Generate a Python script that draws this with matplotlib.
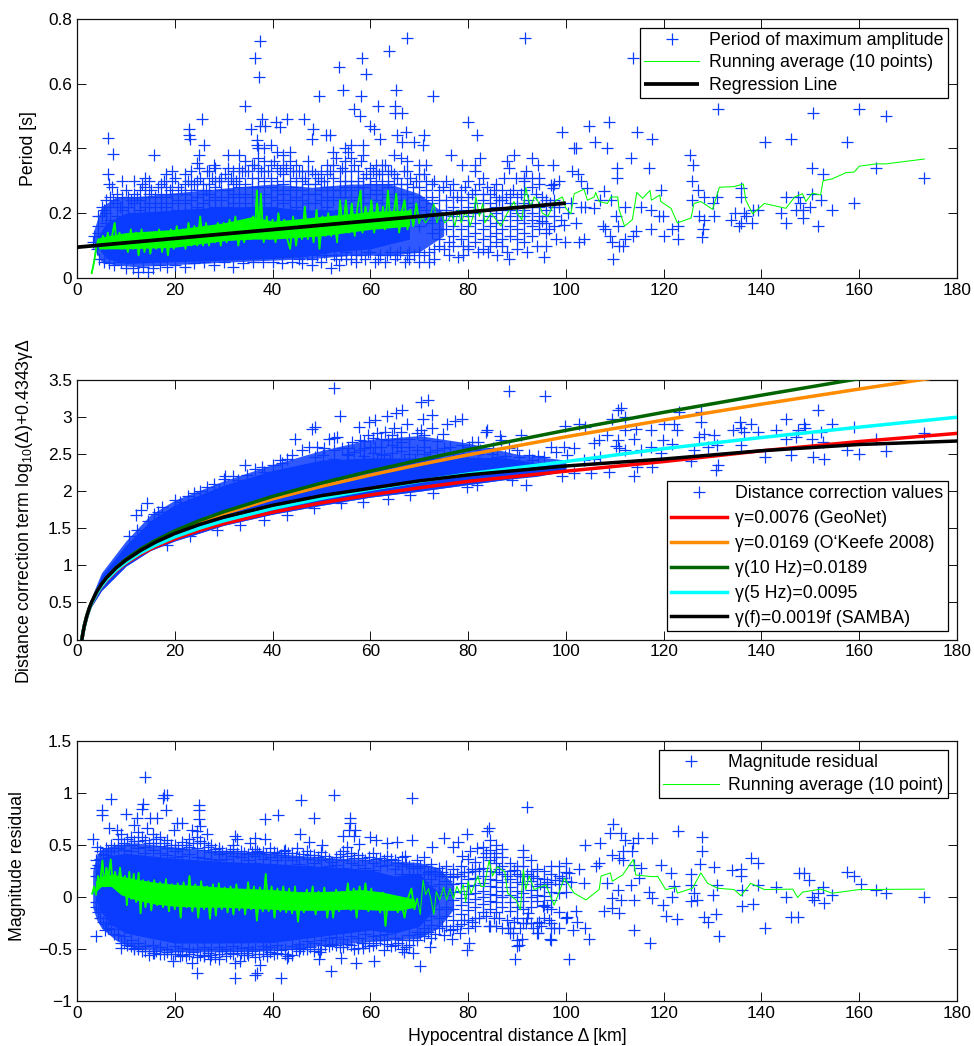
import matplotlib
matplotlib.use('Agg')
import matplotlib.pyplot as plt

plt.rcParams['font.family'] = ['Liberation Sans', 'DejaVu Sans']
plt.rcParams['mathtext.fontset'] = 'custom'
plt.rcParams['mathtext.rm'] = 'Liberation Sans'
plt.rcParams['mathtext.default'] = 'regular'
plt.rcParams['axes.unicode_minus'] = True

W, H = 974, 1046
BLUE = '#0a3cff'
GREEN = '#00ff00'

# ---------- top panel: period ----------
# The core of each cloud is saturated by overplotting, so it is drawn as bands
# (solid core, lighter hatched zone); visible crosses are listed.
top_outer_x = [3.5,5,8,12,18,25,32,40,48,56,64,70,75]
top_outer_lo = [.09,.05,.04,.035,.04,.045,.05,.055,.06,.07,.07,.08,.13]
top_outer_hi = [.15,.22,.25,.25,.26,.27,.28,.29,.28,.29,.29,.26,.2]
top_band_x = [4,6,10,20,30,40,46,52,60,68]
top_band_lo = [.1,.06,.045,.05,.055,.06,.065,.08,.09,.12]
top_band_hi = [.12,.17,.2,.21,.22,.22,.21,.21,.2,.19]
top_green_band_x = [4.5,10,20,30,36,40,50,60,68]
top_green_band_lo = [.09,.09,.095,.115,.12,.12,.13,.15,.16]
top_green_band_hi = [.125,.14,.15,.17,.19,.175,.19,.205,.21]
top_far = [(6.3,.431),(7.4,.382),(6.3,.32),(6.5,.29),(7.2,.28),(15.7,.38),(23,.46),(23,.44),(23.2,.43),(25.6,.49),(26,.41),(25,.38),(24.5,.355),(25,.34),(28,.35),(26.6,.33),(34.4,.53),(36.5,.68),(37.5,.73),(37.2,.62),(35.6,.46),(37.8,.49),(37.5,.47),(38.5,.47),(36.8,.425),(36.8,.41),(40.8,.48),(41.5,.467),(43,.49),(46.4,.49),(48.3,.46),(48,.43),(49.4,.56),(51,.44),(51.8,.44),(53.5,.65),(54.4,.58),(56.6,.52),(57.8,.5),(58,.56),(58.2,.68),(59.1,.63),(60,.47),(60.7,.46),(61.6,.53),(62,.43),(63.9,.70),(65.3,.58),(65.1,.53),(65.1,.51),(66.5,.51),(67.4,.74),(67.3,.45),(65.4,.44),(66.5,.42),(68.9,.42),(71,.44),(70.8,.41),(72.8,.56),(76.4,.38),(80,.48),(81.8,.44),(82.5,.37),(78.7,.35),(81.5,.35),
(91.7,.74),(113.8,.68),(131.2,.52),(150.6,.51),(160,.52),(165.4,.50),(99.2,.45),(104.8,.47),(108.9,.48),(114.5,.45),(117.7,.43),(106,.42),(101.6,.40),(102,.40),(108.5,.40),(113.4,.37),(89.4,.38),(88,.36),(88.4,.34),(93,.37),(94.2,.35),(97.4,.35),(91.8,.33),(101.2,.33),(102.5,.32),(110.4,.34),(110.4,.31),(117,.34),(125.4,.38),(125.9,.35),(125.7,.30),(127,.27),(140.7,.42),(146,.43),(157.4,.42),(150.4,.34),(152.5,.32),(163.4,.34),(173.3,.31),(87.4,.31),(89.8,.31),(91.5,.31),(94.5,.31),(98.6,.30),(103,.30),(97,.287),(97.3,.277),(104.4,.277),(107.8,.267),(119.4,.27),(135.8,.277),(135.8,.25),(128.3,.25),(130,.23),(131,.25),(125.7,.24),(145,.25),(147.4,.25),(150.4,.26),(152.1,.24),(154.4,.21),(159,.23),(147.8,.23),(147,.21),(150,.22),(148.6,.21),(148.6,.185),(145,.17),(151.5,.16),(144,.20),(139.2,.21),(138.2,.21),(136.5,.20),(136.8,.19),(134.5,.20),(133.8,.18),(135.8,.17),(135.5,.16),(138,.17),(130.3,.19),(127.3,.19),(128.3,.18),(128,.15),(127.8,.126),(119.8,.19),(119,.19),(117.4,.21),(115.3,.22),(112,.22),(110.2,.19),(110.6,.16),(107.5,.16),(108,.15),(109,.13),(109.5,.11),(110.9,.10),(111.6,.10),(112,.12),(113.7,.13),(114.3,.145),(117.4,.15),(120.1,.13),(121.8,.15),(123,.16),(123,.12),(109.7,.06),(95.6,.065),(88.3,.06),(103.7,.12),(102.6,.11),(99.9,.11),(98,.12),(102,.17),(99.7,.165),(96.6,.15),(95.2,.175),(105.8,.215),(104,.22),(107,.24),(109.2,.24)]
top_low = [(3.5,.13),(3.2,.11),(4,.09),(4.5,.06),(5.5,.05),(6.5,.045),(7.5,.04),(9,.05),(10,.03),(11.5,.03),(12.5,.02),(13.5,.035),(14.5,.02),(15.5,.03),(17,.04),(18.5,.035),(20,.04),(22,.035),(24,.045),(26,.05),(28,.04),(30,.05),(32,.035),(34,.045),(36,.05),(38,.05),(40,.05),(42,.045),(44,.05),(46,.045),(48,.04),(50,.05),(52,.03),(53.5,.04),(55,.06),(57,.05),(59,.06),(61,.05),(63,.05),(65,.06),(67,.05),(68,.06),(70,.05),(72,.05),(73,.06),(75,.09),(76,.07),(78,.065),(79,.07),(80,.09),
(46,.07),(48,.06),(51,.07),(53,.06),(55,.08),(57,.07),(60,.08),(62,.07),(64,.08),(66,.08),(68,.08),(70,.08),(72,.08),(74,.1),(76,.11)]
top_extra = [(5.5,.21),(7.4,.24),(8.8,.22),(10,.27),(11,.24),(12.2,.25),(13.3,.29),(15.2,.27),(16.6,.28),(17.8,.3),(19,.27),(20.1,.31),(21.3,.27),(22.7,.3),(24,.29),(25.2,.31),(26.4,.27),(27.6,.31),(29,.3),(30.2,.32),(31.4,.31),(32.6,.3),(33.8,.33),(35,.33),(36.3,.35),(37.6,.33),(39,.33),(40.2,.36),(41.5,.33),(42.8,.34),(44.1,.33),(45.4,.33),(46.7,.31),(48,.33),(49.3,.31),(50.5,.3),(51.8,.33),(53,.37),(54.3,.34),(55.5,.39),(56.7,.35),(58,.36),(59.2,.32),(60.5,.33),(61.8,.32),(63,.35),(64.3,.33),(65.5,.31),(66.9,.33),(68.2,.31),(69.4,.3),(71,.32),(73,.3),(74.8,.28),(76.2,.27),(77.8,.25),(79.3,.28),(80.8,.26),(82.2,.29),(83.8,.28),(85.2,.27),(86.4,.24),(87.8,.25),(89.2,.27),(90.8,.26),(92.2,.24),(93.8,.26),(95.2,.25),(96.8,.23),(98.5,.22),(100.5,.2),(99,.18),(101,.23),(103,.22),
(45.5,.06),(47,.075),(49,.07),(50.5,.08),(52.5,.07),(54,.07),(56,.06),(58,.07),(59.5,.08),(61.5,.06),(63.5,.07),(65.5,.07),(67.5,.07),(69,.07),(71,.07),(73,.09),(77,.1),(79,.1),(82,.08),(84,.08),(86,.07),(88,.08),(90,.09),(92,.08),(94,.1),(96,.1)]
top_columns = [(4.2,.19,.16,.14),(5.1,.22,.19,.13),(5.9,.24,.2,.17),(6.8,.25,.22,.18),(8.1,.26,.23,.19),(9.3,.3,.25,.21,.18),(10.4,.25,.22,.19),(11.6,.3,.26,.23,.2),(12.8,.27,.24,.21,.17),(13.9,.31,.28,.25,.22,.19),(14.7,.3,.26,.23,.2),(16.0,.25,.22,.18),(17.2,.29,.26,.23,.2),(18.3,.32,.28,.25,.22,.19),(19.5,.33,.3,.26,.23,.2),(20.7,.28,.24,.21,.18),(22.0,.32,.29,.26,.23,.2),(23.4,.33,.3,.27,.24,.21),(24.6,.3,.27,.25,.22,.19),(25.8,.29,.26,.23,.2),(27.0,.33,.29,.26,.24,.21),(28.3,.34,.3,.28,.25,.22),(29.5,.31,.27,.24,.21),(30.8,.38,.34,.3,.27,.25,.22),(32.0,.33,.29,.26,.23,.2),(33.1,.38,.34,.31,.28,.25,.21),(34.4,.36,.33,.29,.26,.23),(35.7,.35,.31,.28,.25,.22),(37.0,.4,.37,.34,.31,.28,.25,.22),(38.3,.4,.36,.33,.3,.26,.23),(39.6,.41,.35,.31,.28,.25,.22),(40.9,.39,.34,.3,.27,.24,.21),(42.2,.38,.35,.32,.29,.26,.23),(43.5,.39,.36,.33,.3,.27,.24,.21),(44.8,.35,.31,.28,.25,.22),(46.1,.33,.3,.27,.24,.21),(47.3,.36,.33,.29,.26,.23,.2),(48.6,.32,.29,.26,.23),(49.9,.33,.3,.27,.24,.21),(51.2,.35,.32,.28,.25,.22),(52.4,.39,.35,.31,.27,.24),(53.7,.33,.3,.27,.25,.21),(54.9,.4,.36,.33,.3,.28,.25,.23),(56.0,.41,.37,.33,.3,.27,.24,.21),(57.4,.33,.3,.28,.25,.22),(58.6,.41,.38,.31,.28,.25,.23,.2),(59.9,.34,.31,.29,.26,.23),(61.1,.35,.33,.3,.27,.24,.21),(62.4,.35,.32,.29,.26,.23),(63.6,.33,.3,.28,.25,.22),(64.9,.38,.32,.29,.26,.23,.2),(66.2,.37,.29,.26,.24,.21),(67.5,.36,.33,.29,.26,.23,.2),(68.8,.28,.25,.22,.19),(70.0,.35,.32,.28,.25,.22,.19,.16),(71.3,.35,.3,.27,.24,.21,.18),(72.6,.29,.25,.23,.2,.17,.14),(74.0,.27,.24,.21,.18,.15,.12),
(75.5,.3,.24,.21,.18,.15),(77,.29,.25,.22,.19,.16,.13),(78.5,.27,.24,.21,.18,.15,.12),(80,.3,.25,.22,.19,.16,.13,.1),(81.5,.33,.27,.23,.2,.17,.14,.11),(83,.31,.26,.24,.21,.18,.15,.12,.09),(84.5,.26,.23,.21,.19,.16,.13,.1),(85.8,.29,.25,.22,.2,.17,.14,.11),(87,.27,.24,.21,.18,.15,.12,.1),(88.5,.26,.23,.21,.19,.16,.13),(90,.25,.22,.2,.18,.15,.12),(91.5,.3,.27,.23,.21,.19,.17,.14,.11),(93,.31,.28,.22,.2,.18,.16,.13),(94.5,.29,.22,.19,.17,.15),(96,.24,.21,.19,.17,.14),(97.5,.29,.24,.22,.19,.16)]
top_running = [(3.0,.015),(3.5,.05),(4,.10),(4.4,.12),(4.8,.09),(5.3,.13),(5.8,.09),(6.3,.14),(6.8,.10),(7.3,.14),(7.7,.17),(8.1,.11),(8.7,.14),(9.2,.09),(9.8,.13),(10.4,.08),(11,.15),(11.5,.09),(12.1,.14),(12.6,.07),(13.2,.15),(13.8,.08),(14.4,.14),(15,.075),(15.6,.14),(16.2,.09),(16.8,.15),(17.4,.08),(18,.14),(18.6,.07),(19.2,.15),(19.8,.09),(20.4,.16),(21,.10),(21.6,.15),(22.2,.09),(22.8,.17),(23.4,.10),(24,.16),(24.6,.10),(25.2,.19),(25.8,.10),(26.4,.17),(27,.10),(27.6,.16),(28.2,.11),(28.8,.17),(29.4,.10),(30,.17),(30.6,.11),(31.2,.18),(31.8,.12),(32.4,.19),(33,.10),(33.6,.17),(34.2,.11),(34.8,.18),(35.4,.12),(36,.19),(36.4,.14),(36.8,.27),(37.2,.13),(37.6,.26),(38.2,.11),(38.8,.19),(39.4,.12),(40,.18),(40.6,.11),(41.2,.20),(41.8,.13),(42.4,.18),(43,.12),(43.6,.09),(44.2,.19),(44.8,.10),(45.4,.17),(46,.12),(46.6,.22),(47.2,.12),(47.8,.18),(48.4,.11),(49,.21),(49.6,.09),(50.2,.19),(50.8,.13),(51.4,.20),(52,.13),(52.6,.19),(53.2,.11),(53.8,.24),(54.4,.14),(55,.24),(55.6,.14),(56.2,.23),(56.8,.13),(57.4,.22),(58,.27),(58.4,.14),(59,.22),(59.6,.15),(60.2,.24),(60.8,.14),(61.4,.23),(62,.16),(62.6,.22),(63,.15),(63.6,.27),(64.2,.16),(64.8,.20),(65.3,.26),(65.9,.14),(66.5,.21),(67,.24),(67.6,.15),(68.2,.21),(68.8,.16),(69.4,.23),(70,.17),(70.6,.19),(71.3,.17),(72.2,.19),(73,.23),(73.6,.17),(74.5,.20),(75.2,.17),(76,.18),(76.6,.20),(77.3,.16),(78,.21),(78.6,.17),(79.3,.20),(80,.19),(80.4,.16),(81,.19),(81.6,.25),(82.3,.19),(83,.23),(83.4,.17),(84.7,.2),(86.7,.16),(88,.2),(89.4,.236),(90,.2),(91,.18),(91.8,.28),(92.2,.25),(92.8,.22),(93.5,.25),(94.2,.24),(95.2,.2),(96.3,.19),(97.3,.22),(98,.24),(99.3,.25),(100,.215),(101,.198),(101.7,.26),(103.7,.274),(104.4,.24),(105.8,.25),(106.1,.264),(106.8,.236),(108.5,.23),(109.2,.25),(110.6,.25),(110.9,.21),(112,.16),(113.6,.18),(114.5,.264),(115.7,.246),(117.2,.27),(117.5,.24),(119.2,.256),(119.4,.236),(121.5,.215),(122.8,.17),(125.6,.185),(126.2,.23),(127.6,.236),(130,.212),(131.4,.28),(134.4,.282),(136.3,.29),(136.8,.24),(138.2,.198),(140.6,.23),(145,.215),(146.8,.25),(148.4,.26),(149.1,.236),(150.4,.262),(152.1,.256),(152.6,.30),(154.5,.306),(157.3,.325),(159,.327),(160,.345),(163.4,.352),(165.4,.352),(173.3,.367)]
regression_x = [0, 100]
regression_y = [.095, .231]

# ---------- middle panel: distance correction ----------
mid_band_x = [2.5,3,5,10,15,20,30,40,50,60,70,80,88,94,100]
mid_band_lo = [.42,.45,.66,.99,1.2,1.33,1.54,1.69,1.81,1.92,2.0,2.09,2.16,2.2,2.27]
mid_band_hi = [.46,.55,.86,1.27,1.6,1.82,2.08,2.28,2.42,2.45,2.45,2.46,2.45,2.38,2.34]
mid_outer_x = [3,5,10,15,20,30,40,50,60,70,80,90,100]
mid_outer_lo = [.45,.66,.99,1.2,1.33,1.54,1.69,1.81,1.92,2.0,2.09,2.18,2.27]
mid_outer_hi = [.58,.9,1.33,1.68,1.88,2.14,2.36,2.55,2.7,2.75,2.65,2.5,2.42]
mid_pts = [(52.5,3.39),(53.7,3.01),(71.8,3.23),(70.3,3.2),(72.7,3.03),(66.5,3.09),(65.2,3.06),(63.4,3.02),(61,2.96),(59.8,2.93),(57.6,2.86),(70.8,2.97),(72.7,2.85),(67.6,2.91),(75.7,2.91),(78.7,2.97),(77.4,2.95),(74.8,2.77),(83.8,2.82),(64.8,2.85),(63,2.8),(61.4,2.78),(59.6,2.76),(57.9,2.69),(56.2,2.67),(70.3,2.83),(69.5,2.79),(70.9,2.69),(65.4,2.71),(63.7,2.69),(60,2.59),(61,2.6),(56.6,2.53),(57.9,2.55),(62.7,2.49),(65.4,2.59),(69.5,2.55),(72.3,2.53),(75,2.58),(78.7,2.62),(80.8,2.67),(80.1,2.59),(82.5,2.56),(52.5,2.72),(51.5,2.7),(53.2,2.73),(52.5,2.56),(54.2,2.58),(48.7,2.87),(48,2.84),(44.6,2.71),(47.4,2.59),(46,2.55),(44,2.49),(41.6,2.42),(42,2.38),(34.4,2.35),(37.8,2.32),(38.2,2.26),(30.3,2.21),(30,2.16),(34.8,2.22),(33,2.15),(26.6,2.06),(25.2,2.0),(29,2.02),(22.8,1.93),(21.1,1.86),(17.4,1.79),(14.3,1.84),(13,1.74),(12.1,1.68),(15.7,1.69),(12.3,1.48),(10.6,1.39),(48.7,2.46),(50.4,2.49),(52.5,2.44),(55.2,2.49),(58.6,2.42),(61.3,2.42),(64,2.42),(66.8,2.42),(69.2,2.44),(71.6,2.42),(74.3,2.42),(77,2.42),(79.8,2.42),(72.9,1.98),(79.8,2.06),(81.8,2.08),(68.2,1.95),(63.7,1.89),(58.6,1.86),(53.9,1.84),(48.4,1.77),(42.9,1.68),(38.2,1.61),(33.4,1.54),(28.6,1.48),(23.2,1.39),(18.4,1.27),
(88.3,3.35),(95.7,3.29),(111.2,3.12),(110.6,3.09),(112,3.0),(109.5,2.98),(123.2,3.07),(127.7,3.07),(151.5,3.09),(127.7,2.94),(135.7,2.94),(137.8,2.91),(145,2.97),(148.8,2.91),(154.4,2.9),(99.9,2.88),(102.7,2.91),(104,2.86),(114.3,2.84),(112,2.82),(120.1,2.91),(122.2,2.91),(122.7,2.83),(117.5,2.83),(135.8,2.85),(134.1,2.83),(136.5,2.8),(139.2,2.8),(143,2.83),(147.4,2.83),(149,2.85),(159,2.87),(173.3,2.78),(128.3,2.77),(130.3,2.76),(127.3,2.73),(145,2.71),(147,2.73),(150.4,2.71),(152.1,2.8),(152.5,2.67),(163.4,2.71),(106.8,2.69),(108.5,2.76),(110.6,2.69),(114,2.7),(105.8,2.65),(119.8,2.69),(121.8,2.64),(126.2,2.56),(131,2.62),(129,2.6),(135.8,2.62),(157.6,2.56),(140.7,2.46),(146,2.49),(150.6,2.46),(152.7,2.43),(160,2.5),(165.4,2.54),(131.2,2.35),(130.7,2.29),(125.6,2.41),(119.4,2.51),(117.4,2.59),(115.3,2.55),(110.9,2.58),(112,2.56),(110.2,2.61),(117.7,2.33),(114.5,2.32),(114,2.2),(108.9,2.26),(105.1,2.24),(99.3,2.2),(101.7,2.25),(91.8,2.08),(89,2.15),(90.8,2.76),(86.6,2.74),(83.6,2.8),(86.8,2.69),(88.3,2.58),(90.1,2.56),(96.9,2.6),(99.7,2.59),(101.7,2.58),(98,2.53),(100.3,2.49),(105.8,2.44),(103.7,2.42),(107,2.46),(94.2,2.47),(92.5,2.49),(95.6,2.46),(85.1,2.58),(86,2.46)]
mid_columns = [(55.5,2.58,2.5),(58.8,2.68,2.58,2.48),(60.6,2.72,2.52),(62.2,2.7,2.6,2.5),(64.4,2.76,2.62,2.52),(66.2,2.8,2.66,2.54),(68,2.7,2.6,2.5),(71,2.76,2.6,2.5),(73.6,2.68,2.56),(76.3,2.6,2.5),(79,2.56,2.5),(82,2.66,2.5),(84.8,2.5,2.44),(87.6,2.48,2.42),(90.5,2.46,2.4),(93,2.42,2.36),(50.5,2.58),(49,2.6),(43,2.44),(40,2.36),(36.5,2.3),(32,2.2),(28,2.1),(24,1.97),(20,1.88),(16.5,1.72),(14.5,1.6)]
curve_d = [1,1.25,1.5,2,2.5,3,4,5,6,8,10,13,16,20,25,30,40,50,60,70,80,100,120,140,160,180]
curve_red = [.003,.101,.180,.307,.405,.486,.613,.713,.795,.926,1.029,1.151,1.250,1.358,1.470,1.563,1.717,1.843,1.950,2.046,2.133,2.27,2.40,2.545,2.67,2.78]
curve_orange = [.007,.106,.187,.316,.416,.499,.631,.736,.822,.962,1.073,1.209,1.321,1.448,1.582,1.697,1.896,2.066,2.218,2.359,2.490,2.734,2.960,3.174,3.378,3.576]
curve_green = [.008,.107,.188,.317,.419,.502,.635,.740,.827,.969,1.082,1.221,1.335,1.465,1.603,1.723,1.930,2.110,2.271,2.420,2.560,2.821,3.064,3.295,3.518,3.733]
curve_cyan = [.004,.102,.182,.309,.408,.489,.619,.720,.803,.936,1.041,1.168,1.270,1.384,1.501,1.601,1.767,1.905,2.026,2.134,2.233,2.40,2.574,2.724,2.864,2.998]
curve_black = [0,.10,.185,.315,.42,.505,.64,.745,.83,.965,1.07,1.20,1.31,1.43,1.55,1.65,1.81,1.94,2.04,2.14,2.22,2.34,2.434,2.546,2.63,2.677]

# ---------- bottom panel: magnitude residual ----------
bot_outer_x = [3.2,4,5,8,12,20,30,40,50,60,70,74,77]
bot_outer_lo = [-.1,-.22,-.3,-.42,-.5,-.53,-.53,-.52,-.47,-.43,-.4,-.3,-.12]
bot_outer_hi = [.25,.4,.46,.5,.52,.48,.44,.42,.38,.36,.33,.28,.12]
bot_band_x = [4,5,7,10,20,30,40,50,60,65,70,72,74]
bot_band_lo = [-.05,-.15,-.27,-.35,-.445,-.445,-.44,-.38,-.32,-.35,-.285,-.18,-.05]
bot_band_hi = [.25,.38,.4,.42,.37,.34,.32,.29,.26,.2,.23,.12,.05]
bot_green_x = [3.8,5,7,9,12,16,20,25,30,35,40,45,50,55,58,62,66,69]
bot_green_lo = [.05,.1,.1,.02,-.03,-.07,-.09,-.1,-.1,-.11,-.12,-.13,-.13,-.12,-.12,-.13,-.13,-.1]
bot_green_hi = [.15,.2,.22,.2,.17,.14,.12,.11,.09,.08,.07,.05,.05,.06,.07,.05,.01,-.02]
bot_pts = [(14,1.15),(17.7,.98),(18.4,.98),(17.5,.95),(7,.94),(13.6,.89),(13.3,.85),(25,.885),(25,.84),(5.1,.84),(5.1,.79),(10.1,.8),(18.2,.84),(45.9,.93),(52.5,.98),(68.6,.95),(41.1,.79),(38.5,.75),(48.4,.76),(55.8,.76),(55.8,.71),(25,.75),(16.4,.76),(15,.76),(12.3,.76),(11.6,.69),(14.3,.66),(20.5,.71),(21.5,.71),(19.8,.64),(25.2,.68),(24.5,.63),(23.5,.64),(26.6,.6),(6.5,.66),(8.2,.64),(8.9,.6),(3.2,.56),(4.1,.48),(32.4,.59),(32.7,.56),(36.5,.57),(38.5,.56),(45.7,.6),(47.4,.53),(50.1,.5),(54.5,.59),(55.6,.64),(56.9,.64),(56.6,.59),(60,.58),(61.1,.55),(63.4,.52),(65.4,.53),(68.5,.55),(75,.57),(78,.53),(79.8,.6),(83.8,.63),(84.2,.66),(72.6,.48),(67.1,.39),(55.2,.48),(57.6,.51),(45,.47),(42.3,.44),(36.8,.44),(32,.5),(35.4,.52),(29,.44),(77,.48),(78.7,.39),(80.4,.44),(81.8,.47),
(3.95,-.38),(8.9,-.49),(5.8,-.32),(24.5,-.73),(32.4,-.78),(36.5,-.75),(36.8,-.73),(41.8,-.78),(32.4,-.64),(33.4,-.62),(37.5,-.66),(23.5,-.64),(19.6,-.62),(27.3,-.6),(29,-.6),(42.9,-.59),(49.4,-.6),(52,-.71),(53.9,-.59),(57,-.64),(60.7,-.62),(70.2,-.67),(68.8,-.54),(76.7,-.41),(79.8,-.51),(80.1,-.445),(75,-.365),(78.4,-.35),(84.2,-.285),(72.3,-.48),(66.8,-.53),(62.7,-.51),(58.6,-.49),(49.8,-.535),(45.7,-.49),(38.9,-.57),(34.8,-.54),(25.9,-.57),(21.1,-.57),(15.7,-.54),(11.6,-.49),
(92,.86),(109.7,.7),(109,.61),(111.2,.61),(112,.55),(114.7,.57),(117.6,.57),(123,.63),(127.8,.58),(127.8,.44),(104,.5),(107,.52),(113.8,.52),(113.6,.44),(111.6,.44),(109.5,.4),(106.8,.33),(110.9,.37),(111.6,.35),(114,.31),(115.3,.28),(119.4,.31),(121.6,.23),(125.6,.22),(127.5,.32),(130.2,.29),(133.9,.26),(135.8,.27),(135.8,.2),(137.8,.37),(139.2,.33),(147.7,.23),(148.7,.23),(149.8,.16),(157.4,.24),(159,.2),(160.3,.125),(163.4,.07),(165.4,.035),(173.3,0),(154.4,.02),(152.5,.09),(151.5,.035),(152.7,-.055),(150.8,-.03),(150.4,0),(145,0),(143,.09),(139.2,.115),(138.2,-.07),(136.1,-.09),(136.1,.07),(131,.115),(130,.02),(126.9,-.03),(125.6,-.045),(126.2,.035),(125.6,.115),(122.2,.1),(121.8,.003),(119.8,-.08),(117.7,-.013),(117,.05),(114,-.03),(113.3,.115),(115,.18),(111.2,-.03),(109.5,-.013),(108.5,.13),(110.6,.07),(110.9,-.157),(109.5,-.11),(107.8,-.14),(120.4,-.18),(122.8,-.21),(128.3,-.19),(129,-.24),(130.8,-.167),(131.4,-.38),(114,-.32),(117.2,-.445),(140.8,-.3),(146,-.19),(147.4,-.19),(100.7,-.6),(89.6,-.6),(90.5,-.46),(91.1,-.41),(96.7,-.41),(104.8,-.41),(104,-.3),(101.4,-.32),(100.2,-.19),(102,-.14),(102.2,-.24),(97.6,-.3),(96.6,-.22),(94.2,-.35),(94.5,-.24),(91.8,-.25),(89.1,-.35),(88.2,-.3),(84.5,-.285),(92.2,-.157),(95.4,-.09),(103.7,.13),(102.7,.27),(106.1,.3),(100.7,.23)]
bot_extra = [(4.3,.31),(5.3,.41),(6.4,.44),(7.6,.47),(9,.5),(10.2,.56),(11.7,.54),(13.2,.58),(14.7,.52),(16.2,.56),(17.7,.52),(19.2,.5),(20.7,.47),(22.2,.5),(23.7,.52),(25.2,.54),(26.7,.48),(28.2,.46),(29.7,.44),(31.2,.44),(32.7,.42),(34.2,.42),(35.7,.43),(37.2,.42),(38.7,.41),(40.2,.43),(41.7,.4),(43.2,.42),(44.7,.38),(46.2,.41),(47.7,.4),(49.2,.38),(50.7,.39),(52.2,.34),(53.7,.41),(55.2,.39),(56.7,.37),(58.2,.37),(59.7,.38),(61.2,.36),(62.7,.35),(64.2,.36),(65.7,.33),(67.2,.32),(68.7,.28),(70.2,.3),(71.7,.24),(73.2,.22),(74.7,.24),(76.2,.2),(77.7,.22),(79.2,.24),(80.7,.27),(82.2,.27),(83.7,.42),(85.2,.38),(86.4,.27),(88,.2),(89.3,.26),(90.6,.2),(92.1,.22),(93.3,.2),(94.8,.12),(96.2,.14),(97.8,.16),(99.2,.18),(101,.14),
(4.3,-.15),(5.3,-.24),(6.4,-.3),(7.6,-.36),(9,-.44),(10.2,-.46),(11.7,-.5),(13.2,-.52),(14.7,-.56),(16.2,-.52),(17.7,-.55),(19.2,-.55),(20.7,-.52),(22.2,-.57),(23.7,-.53),(25.2,-.56),(26.7,-.54),(28.2,-.58),(29.7,-.52),(31.2,-.54),(32.7,-.52),(34.2,-.56),(35.7,-.52),(37.2,-.55),(38.7,-.5),(40.2,-.55),(41.7,-.51),(43.2,-.57),(44.7,-.5),(46.2,-.5),(47.7,-.48),(49.2,-.5),(50.7,-.46),(52.2,-.45),(53.7,-.48),(55.2,-.45),(56.7,-.5),(58.2,-.44),(59.7,-.47),(61.2,-.44),(62.7,-.42),(64.2,-.47),(65.7,-.44),(67.2,-.48),(68.7,-.42),(70.2,-.36),(71.7,-.34),(73.2,-.36),(74.7,-.28),(76.2,-.32),(77.7,-.28),(79.2,-.22),(80.7,-.24),(82.2,-.2),(83.7,-.18),(85.2,-.2),(86.4,-.2),(88,-.22),(89.3,-.24),(90.6,-.3),(92.1,-.2),(93.3,-.3),(95,-.28),(96.2,-.1)]
bot_columns = [(3.8,.35,.28,.2,-.05,-.1),(4.8,.44,.36,.3,-.12,-.2),(5.9,.47,.4,-.2,-.26),(7,.5,.44,-.25,-.31),(8.3,.56,.47,-.31,-.37),(9.6,.52,.45,-.38,-.44),(11,.58,.5,.44,-.42,-.47),(12.5,.62,.54,.47,-.44,-.5),(14,.55,.48,.42,-.47,-.52),(15.5,.6,.52,.45,-.46,-.54),(17,.58,.49,.42,-.48,-.55),(18.5,.55,.47,.4,-.5,-.53),(20,.5,.44,.38,-.47,-.55),(21.5,.53,.46,.39,-.49,-.56),(23,.56,.48,.41,-.5,-.55),(24.5,.58,.47,.38,-.5,-.58),(26,.52,.45,.37,-.48,-.56),(27.5,.5,.43,.36,-.5,-.56),(29,.47,.41,.35,-.48,-.55),(30.5,.42,.36,-.5,-.57),(32,.46,.39,.33,-.47,-.55),(33.5,.44,.38,-.49,-.54),(35,.41,.35,-.48,-.56),(36.5,.46,.39,.33,-.5,-.58),(38,.43,.36,-.47,-.55),(39.5,.47,.38,.32,-.48,-.53),(41,.42,.35,-.46,-.54),(42.5,.45,.38,.31,-.5,-.55),(44,.42,.35,-.47,-.56),(45.5,.38,.32,-.45,-.52),(47,.44,.36,.3,-.43,-.5),(48.5,.4,.33,-.44,-.52),(50,.43,.35,.29,-.42,-.5),(51.5,.36,.3,-.4,-.47),(53,.38,.31,-.39,-.46),(54.5,.44,.35,.28,-.41,-.48),(56,.42,.33,.27,-.38,-.46),(57.5,.4,.31,-.4,-.49),(59,.35,.28,-.36,-.44),(60.5,.42,.33,.26,-.38,-.46),(62,.37,.3,-.37,-.42),(63.5,.39,.31,-.36,-.45),(65,.35,.27,-.4,-.46),(66.5,.38,.3,.22,-.42,-.5),(68,.3,.22,-.37,-.46),(69.5,.35,.28,-.34,-.42),(71,.38,.3,.22,.14,-.22,-.3,-.38),(72.5,.32,.25,.17,.1,-.18,-.27,-.4),(74,.28,.2,.12,.05,-.12,-.2,-.3),(75.5,.3,.22,.15,.08,.02,-.1,-.18,-.28),(77,.27,.19,.12,.05,-.03,-.12,-.22,-.31),(78.5,.3,.2,.13,.06,-.01,-.08,-.17,-.26),(80,.36,.24,.17,.1,.03,-.05,-.13,-.22,-.3),(81.5,.34,.25,.18,.11,.04,-.02,-.1,-.2,-.28),(83,.48,.38,.28,.2,.13,.06,0,-.07,-.15),(84.5,.55,.45,.35,.25,.17,.1,.03,-.04,-.12),(85.8,.5,.42,.33,.24,.16,.09,.02,-.05,-.15,-.28),(87,.46,.38,.3,.22,.14,.06,0,-.1,-.3),(88.5,.33,.25,.17,.09,.02,-.05,-.14,-.3,-.35),(90,.3,.22,.14,.06,0,-.1,-.2,-.42,-.47),(91.3,.45,.38,.3,.2,.12,.04,-.04,-.12,-.25),(92.8,.35,.25,.15,.07,0,-.1,-.25),(94,.27,.18,.1,.02,-.04,-.25,-.35),(95.5,.25,.17,.09,.01,-.08,-.2),(97,.3,.22,.12,.05,-.03,-.12,-.25,-.3,-.42),(98.5,.3,.2,.12,.04,-.15,-.3),(100,.33,.24,.15,.05,-.2)]
bot_running = [(3.1,.03),(3.5,.1),(3.9,.02),(4.3,.2),(4.7,.12),(5.2,.35),(5.6,.1),(6,.28),(6.4,.18),(6.9,.36),(7.3,.12),(7.8,.24),(8.3,.06),(8.8,.28),(9.3,.05),(9.8,.2),(10.2,-.08),(10.7,.24),(11.1,-.02),(11.6,.22),(12.1,-.05),(12.6,.23),(13,-.16),(13.5,.16),(14,-.1),(14.6,.15),(15.2,-.13),(15.8,.16),(16.4,-.08),(17,.14),(17.6,-.1),(18.2,.17),(18.8,-.14),(19.4,.12),(20,-.12),(20.6,.13),(21.2,-.2),(21.8,.14),(22.4,-.1),(23,.2),(23.6,-.14),(24.2,.12),(24.8,-.2),(25.4,.15),(26,-.12),(26.6,.1),(27.2,-.21),(27.8,.12),(28.4,-.18),(29,.13),(29.6,-.12),(30.2,.09),(30.8,-.15),(31.4,.1),(32,-.17),(32.6,.12),(33.2,-.13),(33.8,.07),(34.4,-.17),(35,.14),(35.6,-.12),(36.2,.1),(36.8,-.23),(37.4,.09),(38,-.14),(38.6,.22),(39.2,-.14),(39.8,.1),(40.4,-.2),(41,.08),(41.6,-.14),(42.2,.1),(42.8,-.15),(43.4,.08),(44,-.16),(44.6,.1),(45.2,-.24),(45.8,.04),(46.4,-.15),(47,.07),(47.6,-.12),(48.2,.1),(48.8,-.17),(49.4,.05),(50,-.12),(50.6,.09),(51.2,-.2),(51.8,.04),(52.4,-.2),(53,.07),(53.6,-.14),(54.2,.05),(54.8,-.09),(55.4,.13),(56,-.13),(56.6,.08),(57.2,-.2),(57.8,.1),(58.4,-.1),(59,.13),(59.6,-.14),(60.2,.08),(60.8,-.12),(61.4,.02),(62,-.15),(62.6,.04),(63.1,-.28),(63.7,.02),(64.3,-.11),(65,.0),(65.6,-.15),(66.3,-.05),(67,-.2),(67.6,-.03),(68.4,.08),(69,-.12),(69.6,-.02),(70.2,-.17),(70.8,.16),(71.3,.02),(71.9,.08),(72.5,-.05),(73,-.17),(73.5,.05),(74.2,-.03),(75,.09),(75.6,-.03),(76.3,.08),(77,-.02),(77.7,.1),(78.4,.03),(79,.12),(79.5,-.05),(80,.15),(80.6,.03),(81.3,.12),(82,.2),(82.6,.1),(83.3,.1),(84.3,.35),(85,.2),(86,.29),(87.5,.24),(88.1,.035),(89.8,-.03),(90.7,-.125),(91.3,.26),(91.8,.07),(92.5,.2),(93.5,.07),(95.9,.115),(97.6,-.08),(99.7,.18),(101.7,.035),(104.1,-.03),(106.8,.07),(107.2,.2),(109.1,.23),(109.5,.15),(111.6,.21),(113.8,.36),(114.3,.21),(117.4,.195),(118.8,.195),(120.4,.07),(122.5,.09),(122.8,.035),(125.9,.083),(127.6,.23),(129,.13),(131,.083),(134.4,.07),(135.8,.01),(137.8,.13),(140.6,.07),(146.4,.074),(147.4,-.006),(148.4,.045),(152.1,.074),(154.5,.035),(160,.07),(173.3,.074)]

x_ticks = [0, 20, 40, 60, 80, 100, 120, 140, 160, 180]
top_ticks = [0, .2, .4, .6, .8]
top_labels = ['0', '0.2', '0.4', '0.6', '0.8']
mid_ticks = [0, .5, 1, 1.5, 2, 2.5, 3, 3.5]
mid_labels = ['0', '0.5', '1', '1.5', '2', '2.5', '3', '3.5']
bot_ticks = [-1, -.5, 0, .5, 1, 1.5]
bot_labels = ['\u22121', '\u22120.5', '0', '0.5', '1', '1.5']


def pairs(lst):
    return [p[0] for p in lst], [p[1] for p in lst]


def columns(rows):
    xs, ys = [], []
    for row in rows:
        for v in row[1:]:
            xs.append(row[0])
            ys.append(v)
    return xs, ys


fig = plt.figure(figsize=(W / 100, H / 100), dpi=100)
TICK_FS = 12.4
FS = 12.8
HATCH_ALPHA = .85


def make_axes(top_px, bottom_px, ylim, ticks, labels):
    ax = fig.add_axes([77 / W, 1 - bottom_px / H, 880 / W, (bottom_px - top_px) / H])
    ax.set_xlim(0, 180)
    ax.set_ylim(*ylim)
    ax.set_xticks(x_ticks)
    ax.set_yticks(ticks)
    ax.set_yticklabels(labels)
    ax.tick_params(direction='in', length=6.2, width=.7, top=True, right=True,
                   labelsize=TICK_FS, pad=3.5, color='#111111')
    for s in ax.spines.values():
        s.set_linewidth(.9)
        s.set_color('#111111')
    return ax


def crosses(ax, xs, ys):
    return ax.plot(xs, ys, ls='none', marker='+', ms=8.6, mew=.9, color=BLUE, zorder=2)[0]


def running(ax, pts, dense_to):
    xs, ys = pairs(pts)
    h = ax.plot(xs, ys, color=GREEN, lw=.75, zorder=3)[0]
    n = sum(1 for v in xs if v <= dense_to)
    ax.plot(xs[:n], ys[:n], color=GREEN, lw=1.3, zorder=3)
    return h


LEG = dict(fontsize=FS, frameon=True, fancybox=False, framealpha=1, edgecolor='black',
           borderaxespad=0, handlelength=3.1, handletextpad=.55, labelspacing=.3,
           borderpad=.25, numpoints=1)

# top
ax1 = make_axes(18.7, 278, (0, .8), top_ticks, top_labels)
ax1.fill_between(top_outer_x, top_outer_lo, top_outer_hi, color=BLUE, alpha=HATCH_ALPHA, lw=0, zorder=2)
ax1.fill_between(top_band_x, top_band_lo, top_band_hi, color=BLUE, lw=0, zorder=2)
for xs, ys in (pairs(top_far), pairs(top_low), pairs(top_extra), columns(top_columns)):
    h1 = crosses(ax1, xs, ys)
ax1.fill_between(top_green_band_x, top_green_band_lo, top_green_band_hi, color=GREEN, lw=0, zorder=3)
h2 = running(ax1, top_running, 70)
h3, = ax1.plot(regression_x, regression_y, color='black', lw=2.7, zorder=4, solid_capstyle='butt')
leg1 = ax1.legend([h1, h2, h3], ['Period of maximum amplitude', 'Running average (10 points)', 'Regression Line'],
                  loc='upper right', bbox_to_anchor=(871 / 880, 1 - 9 / 259.3), **LEG)
leg1.get_frame().set_linewidth(.9)
leg1.set_zorder(10)
ax1.set_ylabel('Period [s]', fontsize=FS)
ax1.yaxis.set_label_coords((37 - 77) / 880, .5)

# middle
ax2 = make_axes(380, 639.5, (0, 3.5), mid_ticks, mid_labels)
ax2.fill_between(mid_outer_x, mid_outer_lo, mid_outer_hi, color=BLUE, alpha=HATCH_ALPHA, lw=0, zorder=2)
ax2.fill_between(mid_band_x, mid_band_lo, mid_band_hi, color=BLUE, lw=0, zorder=2)
for xs, ys in (pairs(mid_pts), columns(mid_columns)):
    g0 = crosses(ax2, xs, ys)
curve_handles = []
for vals, col in ((curve_red, '#ff0000'), (curve_orange, '#ff8c00'), (curve_green, '#006400'),
                  (curve_cyan, '#00ffff'), (curve_black, '#000000')):
    curve_handles.append(ax2.plot(curve_d, vals, color=col, lw=2.5, zorder=3)[0])
leg2 = ax2.legend([g0] + curve_handles,
                  ['Distance correction values', '\u03b3=0.0076 (GeoNet)', '\u03b3=0.0169 (O\u2018Keefe 2008)',
                   '\u03b3(10 Hz)=0.0189', '\u03b3(5 Hz)=0.0095', '\u03b3(f)=0.0019f (SAMBA)'],
                  loc='lower right', bbox_to_anchor=(871 / 880, 8.5 / 259.5),
                  **{**LEG, 'labelspacing': .44, 'handlelength': 3.1, 'handletextpad': .5})
leg2.get_frame().set_linewidth(.9)
leg2.set_zorder(10)
ax2.set_ylabel('Distance correction term log$_{10}$(\u0394)+0.4343\u03b3\u0394', fontsize=FS)
ax2.yaxis.set_label_coords((35 - 77) / 880, .495)

# bottom
ax3 = make_axes(741, 1000.7, (-1, 1.5), bot_ticks, bot_labels)
ax3.fill_between(bot_outer_x, bot_outer_lo, bot_outer_hi, color=BLUE, alpha=HATCH_ALPHA, lw=0, zorder=2)
ax3.fill_between(bot_band_x, bot_band_lo, bot_band_hi, color=BLUE, lw=0, zorder=2)
for xs, ys in (pairs(bot_pts), pairs(bot_extra), columns(bot_columns)):
    b1 = crosses(ax3, xs, ys)
ax3.fill_between(bot_green_x, bot_green_lo, bot_green_hi, color=GREEN, lw=0, zorder=3)
b2 = running(ax3, bot_running, 70)
leg3 = ax3.legend([b1, b2], ['Magnitude residual', 'Running average (10 point)'],
                  loc='upper right', bbox_to_anchor=(871 / 880, 1 - 9 / 259.7), **LEG)
leg3.get_frame().set_linewidth(.9)
leg3.set_zorder(10)
ax3.set_ylabel('Magnitude residual', fontsize=FS)
ax3.yaxis.set_label_coords((26 - 77) / 880, .52)
ax3.set_xlabel('Hypocentral distance \u0394 [km]', fontsize=FS, labelpad=5.5)

fig.savefig('out.png', dpi=100)
